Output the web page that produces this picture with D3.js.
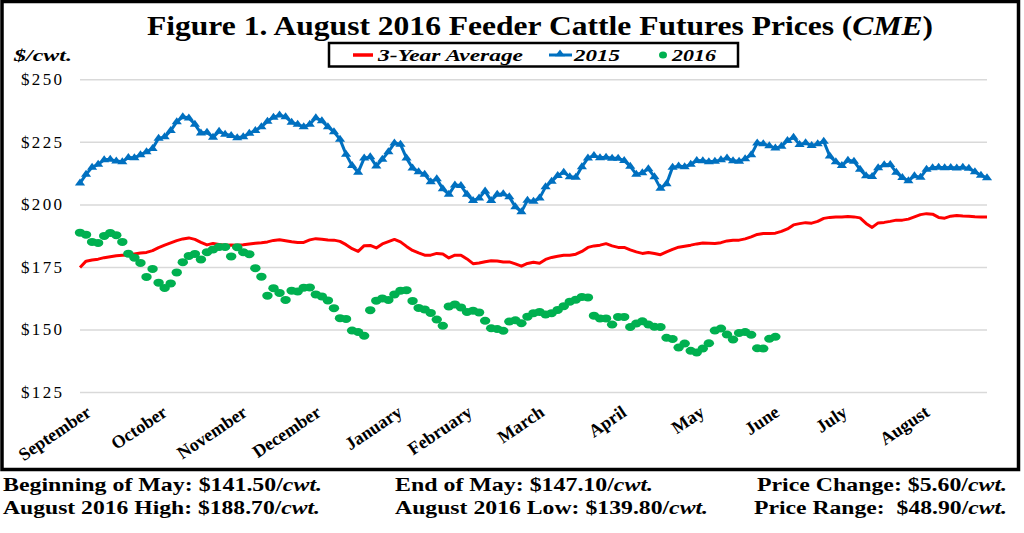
<!DOCTYPE html>
<html><head><meta charset="utf-8">
<script src="https://cdn.jsdelivr.net/npm/d3@7/dist/d3.min.js"></script>
<style>
html,body{margin:0;padding:0;background:#fff;}
svg{display:block;font-family:"Liberation Serif","Times New Roman",serif;}
</style></head>
<body>
<svg id="chart" width="1024" height="533"></svg>
<script>
// ---------------- DATA ----------------
const months = ["September","October","November","December","January","February","March","April","May","June","July","August"];
const monthPos = [1.98, 14.55, 27.78, 40.0, 53.4, 65.0, 76.9, 90.5, 103.4, 115.8, 127.0, 140.6];
const yTicks = [125, 150, 175, 200, 225, 250];

const avg3yr = [174.8,177.3,177.8,178.1,178.7,179.1,179.5,179.7,179.8,180.2,
180.6,180.8,181.5,182.7,183.7,184.6,185.5,186.2,186.6,186,
184.8,183.8,184.4,184,183.7,183.8,183.7,183.9,184.2,184.5,
184.7,185,185.6,185.9,185.5,185.1,184.8,184.8,185.8,186.3,
186.1,185.8,185.7,185.2,183.9,182.3,181.2,183.5,183.6,182.6,
184.2,185.1,186,185,183.2,181.6,180.6,179.7,179.7,180.4,
180.2,178.6,179.7,179.7,178.2,176.3,176.6,177.1,177.5,177.4,
177,177,176.2,175.3,176.4,176.9,176.5,178,178.8,179.3,
179.7,179.7,180.1,181.2,182.8,183.4,183.7,184.3,183.4,182.8,
182.8,181.8,181,180.4,180.8,180.4,179.9,181,182,182.9,
183.3,183.7,184.2,184.6,184.5,184.4,184.7,185.4,185.7,185.7,
186.2,187,188,188.4,188.4,188.5,189.2,190.2,191.8,192.3,
192.7,192.5,193.2,194.4,194.8,195,195,195.2,195,194.6,
192.4,190.8,192.6,192.8,193.2,193.7,193.7,194.1,195,195.9,
196.3,196.1,194.8,194.5,195.3,195.6,195.4,195.3,195.1,195,195];

const y2015 = [208.5,212,214.8,216,217.8,218,217.3,217,218.7,218.6,
219.8,221,222.3,226.4,227,229.5,233,235,234.5,232,
228.5,228.8,226.8,229.2,228,227.5,226.6,227,228.4,229.5,
231,233.2,234.8,235.7,235,232.8,232,231,232,234.6,
233.4,231,229,226,220,215.5,212.8,218.5,219,215.3,
218,221,224.5,224,218.5,214.5,213,212,209,210.2,
206.2,204,207.7,207.5,204,201.5,202.5,205.3,201.5,204,
204.2,203,199,197,201.6,201.2,202.5,207,209.2,211.5,
212.8,211,210.8,215,218.5,219.5,218.6,218.8,218.4,218.4,
217.5,215.2,212,212.6,214.2,211,206.4,208.2,214.8,215.3,
215,216,217.5,217.4,217,217.2,217.8,218.5,217.4,217.2,
218.2,219.8,224.5,224.2,223.4,222.5,223.2,225.5,226.8,223.9,
224.6,223.5,224.2,225.2,219.3,217,215.5,217.6,217.2,214,
211.4,211.1,214.6,215.8,215.9,212.8,210.7,209.4,211.4,210.8,
214,214.6,214.8,214.6,214.7,214.5,214.8,214.4,213,211.6,210.6];

const y2016 = [188.7,187.9,185,184.6,187.4,188.6,187.7,185,180.3,178.7,
176.6,171,174.2,168.7,166.6,168.4,172.8,176.9,179.4,180.2,
178,180.9,182,183,183,179.2,182.9,180.9,180.1,174.5,
171.1,163.5,166.5,164.6,161.8,165.5,165.2,166.7,166.8,164,
163.2,161.6,158.5,154.5,154.2,149.6,149,147.5,157.7,161.5,
162.4,161.8,164,165.5,165.7,161.4,158.6,158,156.6,154,
151.5,159.2,160,158.8,157,157.5,156.8,153.5,150.5,150.2,
149.5,153.2,153.7,152.5,155.1,156.5,157,156,156.5,157.8,
159.3,161.1,161.9,163,162.8,155.5,154.4,154.4,152,155,
155,151,152.4,153.3,152,151.1,151,146.7,146.2,142.8,
144.4,141.5,140.8,142.4,144.5,149.6,150.4,148,146,148.6,
149,147.9,142.5,142.4,146.3,147.1];

const seriesNames = ["3-Year Average", "2015", "2016"];
const seriesColors = ["#ff0000", "#0070c0", "#00b050"];

// ---------------- CHART ----------------
const svg = d3.select("#chart");
const serif = '"Liberation Serif","Times New Roman",serif';
const N = y2015.length;
const pL = 80, pR = 987, pT = 79.3, pB = 392;

const x = d3.scaleLinear().domain([0, N - 1]).range([pL, pR]);
const y = d3.scaleLinear().domain([125, 250]).range([pB, pT]);

svg.append("rect").attr("width", 1024).attr("height", 533).attr("fill", "#fff");
// outer frame
svg.append("rect").attr("x", 2).attr("y", 1.5).attr("width", 1016.5).attr("height", 468)
  .attr("fill", "none").attr("stroke", "#000").attr("stroke-width", 3.5);

// title
const title = svg.append("text").attr("x", 147).attr("y", 35)
  .attr("font-family", serif).attr("font-weight", "bold").attr("font-size", 28)
  .attr("textLength", 786).attr("lengthAdjust", "spacingAndGlyphs");
title.append("tspan").text("Figure 1. August 2016 Feeder Cattle Futures Prices (");
title.append("tspan").attr("font-style", "italic").text("CME");
title.append("tspan").text(")");

// unit label
svg.append("text").attr("x", 14).attr("y", 61).attr("font-family", serif)
  .attr("font-weight", "bold").attr("font-style", "italic").attr("font-size", 16)
  .attr("textLength", 58).attr("lengthAdjust", "spacingAndGlyphs").text("$/cwt.");

// y axis with gridlines
const yAxis = svg.append("g").attr("transform", `translate(${pL},0)`)
  .call(d3.axisLeft(y).tickValues(yTicks).tickSize(-(pR - pL)).tickPadding(18)
    .tickFormat(d => "$" + d));
yAxis.select(".domain").remove();
yAxis.selectAll(".tick line").attr("stroke", "#d9d9d9").attr("stroke-width", 1.5);
yAxis.selectAll(".tick text").attr("font-family", serif).attr("font-size", 17)
  .attr("fill", "#000").attr("textLength", 41).attr("lengthAdjust", "spacing");

// x axis (month labels)
const xAxis = svg.append("g").attr("transform", `translate(0,${pB})`)
  .call(d3.axisBottom(x).tickValues(monthPos).tickSize(0).tickFormat((d, i) => months[i]));
xAxis.select(".domain").remove();
xAxis.selectAll(".tick text").attr("x", 0).attr("y", 0).attr("dy", 0)
  .attr("transform", "translate(0,23) rotate(-34)").attr("text-anchor", "end")
  .attr("font-family", serif).attr("font-weight", "bold").attr("font-size", 18).attr("fill", "#000");

// 3-year average line
const line = d3.line().x((d, i) => x(i)).y(d => y(d));
svg.append("path").datum(avg3yr).attr("d", line).attr("fill", "none")
  .attr("stroke", seriesColors[0]).attr("stroke-width", 3).attr("stroke-linejoin", "round");

// 2015 line + triangles
svg.append("path").datum(y2015).attr("d", line).attr("fill", "none")
  .attr("stroke", seriesColors[1]).attr("stroke-width", 3).attr("stroke-linejoin", "round");
const tri = d3.symbol().type(d3.symbolTriangle).size(34);
svg.append("g").selectAll("path").data(y2015).join("path")
  .attr("d", tri).attr("transform", (d, i) => `translate(${x(i)},${y(d)}) scale(1.15,0.9)`)
  .attr("fill", seriesColors[1]);

// 2016 dots
svg.append("g").selectAll("ellipse").data(y2016).join("ellipse")
  .attr("cx", (d, i) => x(i)).attr("cy", d => y(d)).attr("rx", 5.2).attr("ry", 4)
  .attr("fill", seriesColors[2]);

// legend
const lg = svg.append("g");
lg.append("rect").attr("x", 329).attr("y", 43).attr("width", 409).attr("height", 23.5)
  .attr("fill", "#fff").attr("stroke", "#000").attr("stroke-width", 2.5);
lg.append("line").attr("x1", 353).attr("x2", 373).attr("y1", 55).attr("y2", 55)
  .attr("stroke", seriesColors[0]).attr("stroke-width", 3.5);
lg.append("line").attr("x1", 549).attr("x2", 572).attr("y1", 55).attr("y2", 55)
  .attr("stroke", seriesColors[1]).attr("stroke-width", 3);
lg.append("path").attr("d", tri).attr("transform", "translate(560,54) scale(1.15,0.9)").attr("fill", seriesColors[1]);
lg.append("ellipse").attr("cx", 663).attr("cy", 55).attr("rx", 4).attr("ry", 3.5).attr("fill", seriesColors[2]);
const legText = [[378, 145], [574, 46], [672, 44]];
seriesNames.forEach((n, i) => {
  lg.append("text").attr("x", legText[i][0]).attr("y", 61).attr("font-family", serif)
    .attr("font-weight", "bold").attr("font-style", "italic").attr("font-size", 17)
    .attr("textLength", legText[i][1]).attr("lengthAdjust", "spacingAndGlyphs").text(n);
});

// bottom notes
const notes = [
  {x: 3, y: 491, w: 319, a: "Beginning of May: $141.50/"},
  {x: 395, y: 491, w: 258, a: "End of May: $147.10/"},
  {x: 757, y: 491, w: 250, a: "Price Change: $5.60/"},
  {x: 3, y: 514, w: 317, a: "August 2016 High: $188.70/"},
  {x: 395, y: 514, w: 313, a: "August 2016 Low: $139.80/"},
  {x: 754, y: 514, w: 253, a: "Price Range:\u00a0\u00a0$48.90/"}
];
notes.forEach(n => {
  const t = svg.append("text").attr("x", n.x).attr("y", n.y).attr("font-family", serif)
    .attr("font-weight", "bold").attr("font-size", 19)
    .attr("textLength", n.w).attr("lengthAdjust", "spacingAndGlyphs");
  t.append("tspan").text(n.a);
  t.append("tspan").attr("font-style", "italic").text("cwt.");
});
</script>
</body></html>
